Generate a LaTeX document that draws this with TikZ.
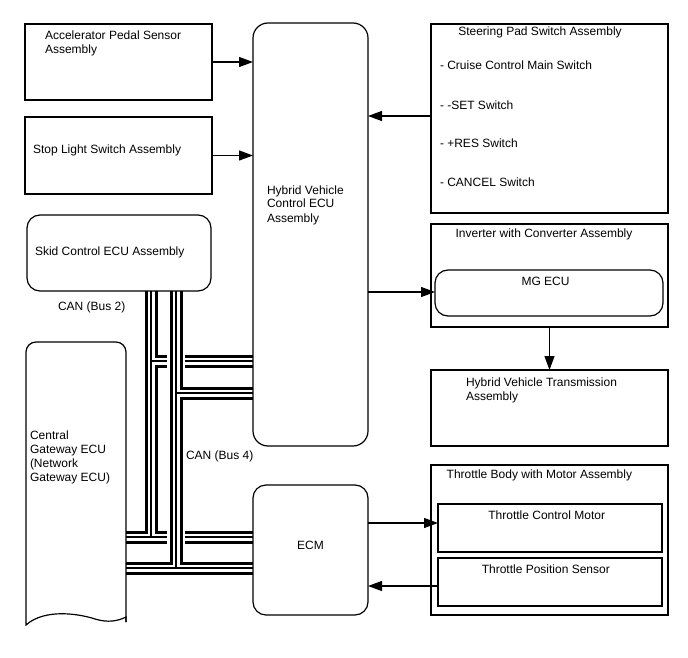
\documentclass[tikz,border=0pt]{standalone}
\usepackage{fontspec}
\setmainfont{Liberation Sans}
\usetikzlibrary{arrows.meta,backgrounds}
\begin{document}
\begin{tikzpicture}[x=1pt,y=-1pt,
  box/.style={draw, line width=1.2pt, inner sep=0pt, outer sep=0pt, anchor=north west},
  rbox/.style={box, rounded corners=13pt},
  txt/.style={inner sep=0pt, outer sep=0pt, anchor=base west, align=left, font=\fontsize{12}{14}\selectfont},
  ctxt/.style={txt, anchor=base, align=center},
  arr/.style={line width=1.2pt, -{Triangle[length=14pt,width=10pt]}},
  busA/.style={line width=13pt, black},
  busB/.style={line width=7pt, white},
  busC/.style={line width=2pt, black},
  halo/.style={line width=18pt, white}]
\useasboundingbox (0,0) rectangle (688,658);

% boxes
\node[box, minimum width=187pt, minimum height=76pt] (accel) at (25,24) {};
\node[box, minimum width=187pt, minimum height=77pt] (stop) at (25,117) {};
\node[rbox, minimum width=184pt, minimum height=76pt] (skid) at (27,215) {};
\node[box, rounded corners=15pt, minimum width=115pt, minimum height=423pt] (hv) at (253,23) {};
\node[box, minimum width=237pt, minimum height=189pt] (steer) at (431,24) {};
\node[box, minimum width=237pt, minimum height=103pt] (inv) at (431,224) {};
\node[rbox, minimum width=228pt, minimum height=46pt] (mg) at (435,270) {};
\node[box, minimum width=237pt, minimum height=76pt] (trans) at (431,370) {};
\node[box, minimum width=237pt, minimum height=150pt] (thr) at (431,465) {};
\node[box, minimum width=224pt, minimum height=48pt] (tcm) at (438,504) {};
\node[box, minimum width=224pt, minimum height=48pt] (tps) at (438,558) {};
\node[rbox, minimum width=115pt, minimum height=130pt] (ecm) at (253,485) {};
\node[inner sep=0pt, outer sep=0pt, anchor=north west, minimum width=100pt, minimum height=280pt] (gw) at (26,342) {};
\draw[line width=1.2pt, rounded corners=10pt] (gw.south west) -- (gw.north west) -- (gw.north east) -- (gw.south east);
\draw[line width=1.2pt] (gw.south west) -- (26,625) .. controls (45,608) and (80,614) .. (95,619) .. controls (108,623) and (118,621) .. (126,617) -- (gw.south east);

% texts (base = baseline of the last line)
\node[txt] (accel-t) at (45,54) {Accelerator Pedal Sensor\\Assembly};
\node[txt] (stop-t) at (33,153.5) {Stop Light Switch Assembly};
\node[txt] (skid-t) at (35,255) {Skid Control ECU Assembly};
\node[txt] (hv-t) at (267,222) {Hybrid Vehicle\\Control ECU\\Assembly};
\node[ctxt] (steer-t) at (540,36) {Steering Pad Switch Assembly};
\node[txt] (sw1) at (440,69.3) {- Cruise Control Main Switch};
\node[txt] (sw2) at (440,109.3) {- -SET Switch};
\node[txt] (sw3) at (440,147.7) {- +RES Switch};
\node[txt] (sw4) at (440,186.7) {- CANCEL Switch};
\node[ctxt] (inv-t) at (544,237.3) {Inverter with Converter Assembly};
\node[ctxt] (mg-t) at (545.5,285.7) {MG ECU};
\node[txt] (trans-t) at (466,400) {Hybrid Vehicle Transmission\\Assembly};
\node[txt] (thr-t) at (446.7,478.3) {Throttle Body with Motor Assembly};
\node[ctxt] (tcm-t) at (546.7,519.3) {Throttle Control Motor};
\node[ctxt] (tps-t) at (545.8,573.3) {Throttle Position Sensor};
\node[ctxt] (ecm-t) at (310.5,549) {ECM};
\node[txt] (gw-t) at (30,481) {Central\\Gateway ECU\\(Network\\Gateway ECU)};
\node[txt] (can2) at (58,310) {CAN (Bus 2)};
\node[txt] (can4) at (186,459) {CAN (Bus 4)};

% arrows
\draw[arr] (accel.east) -- (hv.west |- accel.east);
\draw[arr] (stop.east) -- (hv.west |- stop.east);
\draw[arr] (steer.west |- 0,116) -- (hv.east |- 0,116);
\draw[arr] (hv.east |- 0,292) -- (mg.west |- 0,292);
\draw[arr] (inv.south) -- (trans.north);
\draw[arr] (ecm.east |- 0,523) -- (tcm.west |- 0,523);
\draw[arr] (tps.west |- 0,586) -- (ecm.east |- 0,586);

% CAN buses
\newcommand\bustwo[1]{%
  \draw[#1] (skid.south -| 151,0) -- (151,537);
  \draw[#1] (gw.east |- 0,537) -- (ecm.west |- 0,537);
  \draw[#1] (151,361) -- (hv.west |- 0,361);}
\newcommand\busfour[1]{%
  \draw[#1] (skid.south -| 176,0) -- (176,568);
  \draw[#1] (gw.east |- 0,568) -- (ecm.west |- 0,568);
  \draw[#1] (176,393) -- (hv.west |- 0,393);}
\begin{pgfonlayer}{background}
\bustwo{busA}\bustwo{busB}\bustwo{busC}
\busfour{halo}\busfour{busA}\busfour{busB}\busfour{busC}
\end{pgfonlayer}
\end{tikzpicture}
\end{document}
